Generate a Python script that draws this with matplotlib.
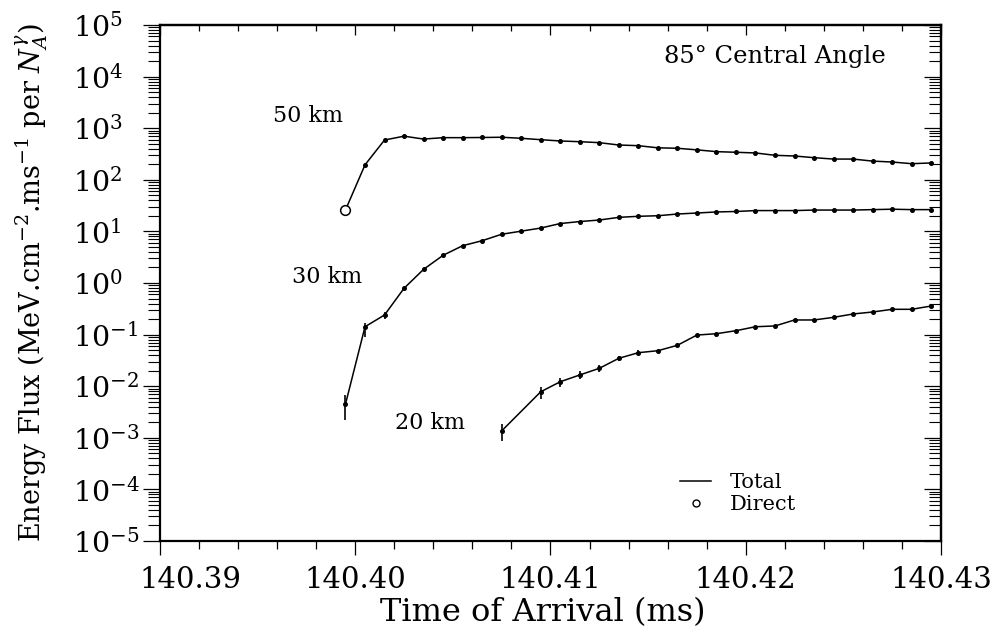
"""Energy flux vs time of arrival at 85° central angle (three source heights)."""

import matplotlib

matplotlib.use("Agg")
import matplotlib.pyplot as plt
from matplotlib.lines import Line2D
from matplotlib.ticker import (FixedLocator, LogFormatterMathtext, LogLocator,
                               MultipleLocator, NullFormatter)

plt.rcParams["font.family"] = "DejaVu Serif"
plt.rcParams["mathtext.fontset"] = "dejavuserif"

# time of arrival, ms (shared by the 50 km and 30 km curves)
TIME = [140.3995, 140.4005, 140.4015, 140.4025, 140.4035, 140.4045, 140.4055,
        140.4065, 140.4075, 140.4085, 140.4095, 140.4105, 140.4115, 140.4125,
        140.4135, 140.4145, 140.4155, 140.4165, 140.4175, 140.4185, 140.4195,
        140.4205, 140.4215, 140.4225, 140.4235, 140.4245, 140.4255, 140.4265,
        140.4275, 140.4285, 140.4295]
FLUX_50 = [26, 195, 590, 700, 615, 655, 655, 660, 667, 637, 598, 565, 547,
           524, 472, 458, 416, 408, 380, 351, 341, 331, 298, 289, 268, 252,
           252, 230, 221, 205, 212]
FLUX_30 = [0.0045, 0.142, 0.24, 0.79, 1.84, 3.44, 5.28, 6.6, 8.8, 10.1, 11.6,
           14.2, 15.5, 16.6, 18.7, 19.6, 20.1, 21.7, 22.7, 23.8, 24.3, 25.3,
           25.3, 25.3, 25.9, 25.9, 25.9, 26.4, 26.9, 26.4, 26.4]
TIME_20 = [140.4075, 140.4095, 140.4105, 140.4115, 140.4125, 140.4135,
           140.4145, 140.4155, 140.4165, 140.4175, 140.4185, 140.4195,
           140.4205, 140.4215, 140.4225, 140.4235, 140.4245, 140.4255,
           140.4265, 140.4275, 140.4285, 140.4295]
FLUX_20 = [0.00136, 0.0078, 0.0122, 0.0165, 0.0222, 0.0347, 0.0446, 0.0487,
           0.062, 0.098, 0.104, 0.119, 0.142, 0.147, 0.192, 0.192, 0.216,
           0.251, 0.274, 0.309, 0.309, 0.358]

# statistical error bars (lower, upper)
ERR30_T = [140.3995, 140.4005, 140.4015]
ERR30_LO = [0.0022, 0.088, 0.20]
ERR30_HI = [0.0068, 0.166, 0.28]
ERR20_T = [140.4075, 140.4095, 140.4105, 140.4115, 140.4125, 140.4135, 140.4145]
ERR20_LO = [0.00085, 0.0056, 0.0095, 0.0136, 0.0191, 0.0308, 0.040]
ERR20_HI = [0.00186, 0.0097, 0.0142, 0.0197, 0.0258, 0.0385, 0.050]

XTICKS = [140.39, 140.40, 140.41, 140.42, 140.43]
XTICK_LABELS = ["140.39", "140.40", "140.41", "140.42", "140.43"]


def main() -> None:
    fig = plt.figure(figsize=(9.97, 6.37), dpi=100)
    ax = fig.add_axes([0.1605, 0.1507, 0.7833, 0.8101])
    ax.set_yscale("log")
    ax.set_xlim(140.39, 140.43)
    ax.set_ylim(1e-5, 1e5)

    line_kw = dict(color="black", lw=1.1, marker="o", ms=2.6)
    ax.plot(TIME[1:], FLUX_50[1:], **line_kw)
    ax.plot(TIME[:2], FLUX_50[:2], color="black", lw=1.1)
    ax.plot(TIME[0], FLUX_50[0], "o", mfc="white", mec="black", ms=7, mew=1.1)
    ax.plot(TIME, FLUX_30, **line_kw)
    ax.plot(TIME_20, FLUX_20, **line_kw)
    ax.vlines(ERR30_T, ERR30_LO, ERR30_HI, color="black", lw=1.2)
    ax.vlines(ERR20_T, ERR20_LO, ERR20_HI, color="black", lw=1.2)

    ax.text(0.190, 0.8236, "50 km", transform=ax.transAxes, ha="center", va="center", fontsize=16)
    ax.text(0.2145, 0.5122, "30 km", transform=ax.transAxes, ha="center", va="center", fontsize=16)
    ax.text(0.3457, 0.2293, "20 km", transform=ax.transAxes, ha="center", va="center", fontsize=16)
    ax.text(0.787, 0.938, "85° Central Angle", transform=ax.transAxes,
            ha="center", va="center", fontsize=17.5)

    handles = [Line2D([], [], color="black", lw=1.1),
               Line2D([], [], ls="none", marker="o", mfc="white", mec="black", ms=5)]
    ax.legend(handles, ["Total", "Direct"], loc="center left",
              bbox_to_anchor=(0.6658, 0.092), frameon=False, fontsize=15,
              handlelength=1.5, handletextpad=0.9, labelspacing=0.15,
              borderpad=0, borderaxespad=0)

    # x axis: ticks out at the bottom, in at the top
    ax.xaxis.set_major_locator(FixedLocator(XTICKS))
    ax.xaxis.set_minor_locator(MultipleLocator(0.002))
    ax.set_xticklabels([""] + XTICK_LABELS[1:])
    ax.tick_params(axis="x", which="major", direction="out", length=10, width=0.9,
                   pad=8, labelsize=21)
    ax.tick_params(axis="x", which="minor", direction="out", length=5.5, width=0.9)
    ax.annotate(XTICK_LABELS[0], xy=(XTICKS[0], 0), xycoords=("data", "axes fraction"),
                xytext=(22, -18), textcoords="offset points", ha="center", va="top",
                fontsize=21)

    # y axis: ticks out on the left, in on the right; labels share a left edge
    ax.yaxis.set_major_locator(LogLocator(base=10, numticks=20))
    ax.yaxis.set_minor_locator(LogLocator(base=10, subs=range(2, 10), numticks=100))
    ax.yaxis.set_major_formatter(LogFormatterMathtext())
    ax.yaxis.set_minor_formatter(NullFormatter())
    ax.tick_params(axis="y", which="major", direction="out", length=12, width=0.9,
                   pad=51, labelsize=20.5)
    ax.tick_params(axis="y", which="minor", direction="out", length=8.5, width=0.8)
    for lbl in ax.get_yticklabels():
        lbl.set_horizontalalignment("left")

    top = ax.secondary_xaxis("top")
    top.xaxis.set_major_locator(FixedLocator(XTICKS))
    top.xaxis.set_minor_locator(MultipleLocator(0.002))
    top.tick_params(axis="x", which="major", direction="in", length=7, width=0.9, labeltop=False)
    top.tick_params(axis="x", which="minor", direction="in", length=4.5, width=0.9)

    right = ax.secondary_yaxis("right")
    right.yaxis.set_major_locator(LogLocator(base=10, numticks=20))
    right.yaxis.set_minor_locator(LogLocator(base=10, subs=range(2, 10), numticks=100))
    right.tick_params(axis="y", which="major", direction="in", length=12, width=0.9,
                      labelright=False)
    right.tick_params(axis="y", which="minor", direction="in", length=8.5, width=0.8)

    for sec in (ax, top, right):
        for spine in sec.spines.values():
            spine.set_linewidth(1.6)

    ax.set_xlabel("Time of Arrival (ms)", fontsize=23)
    ax.xaxis.set_label_coords(0.49, -0.108)
    ax.set_ylabel(r"Energy Flux (MeV.cm$^{-2}$.ms$^{-1}$ per $N_A^{\gamma}$)",
                  fontsize=19.5)
    ax.yaxis.set_label_coords(-0.141, 0.5)

    fig.savefig("out.png", dpi=100)
    plt.close(fig)


if __name__ == "__main__":
    main()
